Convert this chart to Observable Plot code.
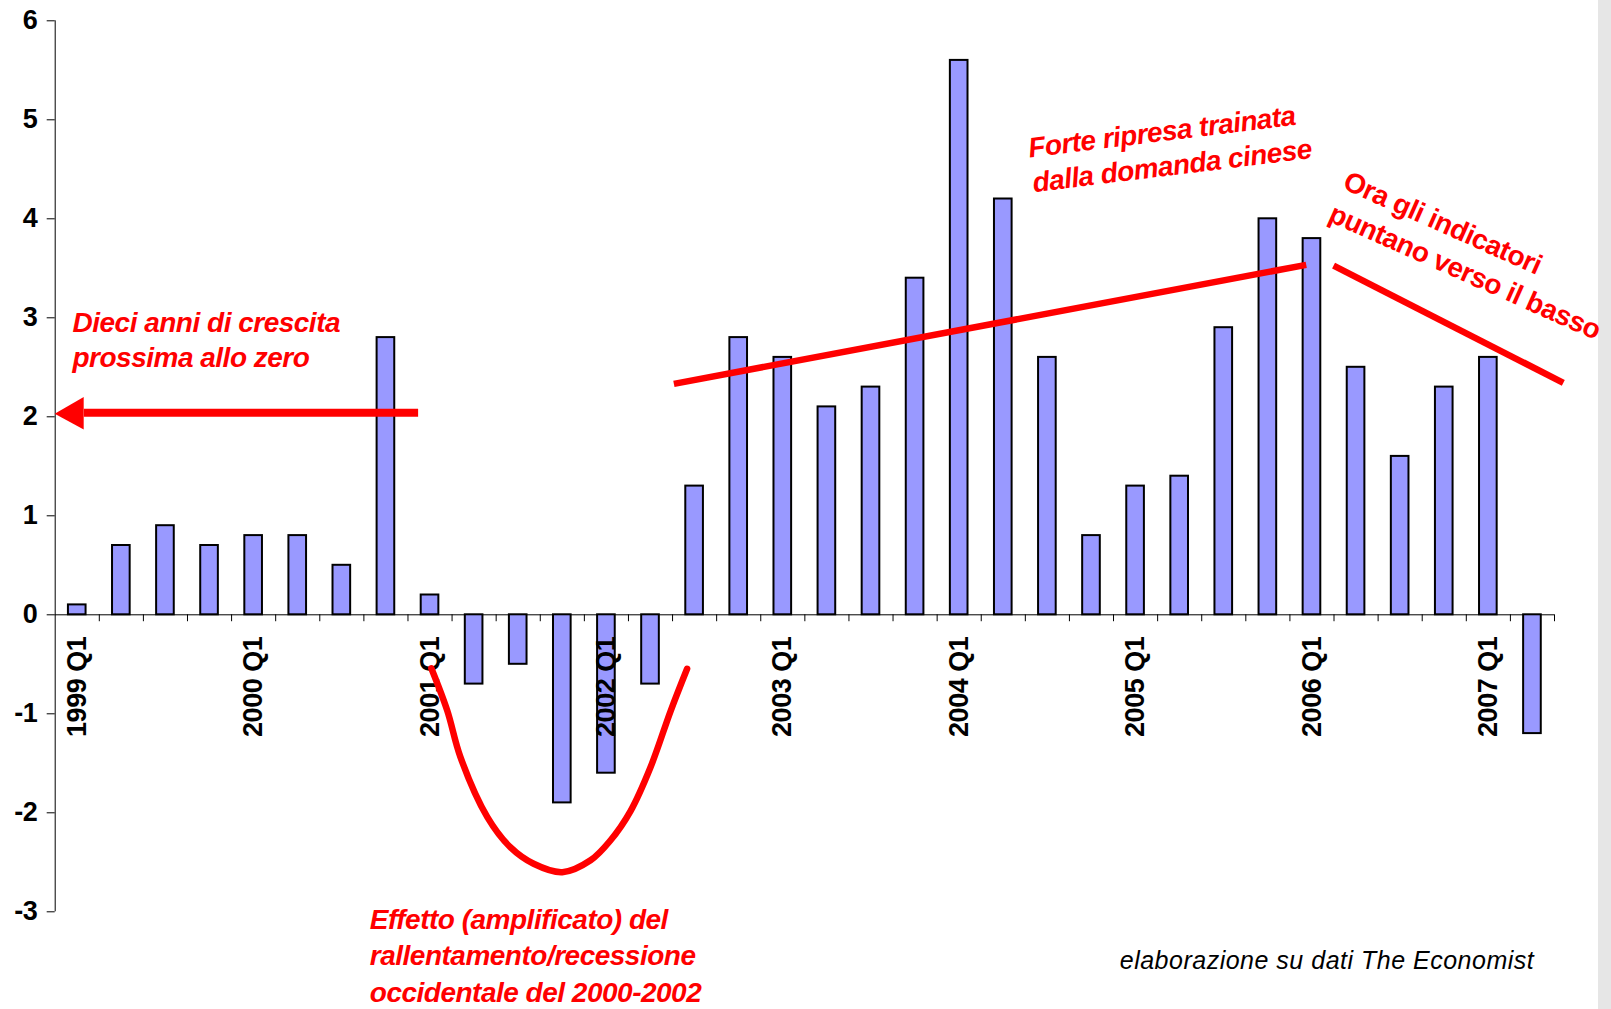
<!DOCTYPE html>
<html>
<head>
<meta charset="utf-8">
<script src="https://cdn.jsdelivr.net/npm/d3@7"></script>
<script src="https://cdn.jsdelivr.net/npm/@observablehq/plot@0.6"></script>
<style>
  html, body { margin: 0; padding: 0; background: #ffffff; }
  #strip { position: absolute; left: 1598px; top: 0; width: 13px; height: 1009px; background: #e6e6e6; }
  #chart { position: absolute; left: 0; top: 0; }
  #chart svg text { letter-spacing: -0.5px; }
</style>
</head>
<body>
<div id="strip"></div>
<div id="chart"></div>
<script>
// ---- data ----
const quarters = [
  "1999 Q1","1999 Q2","1999 Q3","1999 Q4",
  "2000 Q1","2000 Q2","2000 Q3","2000 Q4",
  "2001 Q1","2001 Q2","2001 Q3","2001 Q4",
  "2002 Q1","2002 Q2","2002 Q3","2002 Q4",
  "2003 Q1","2003 Q2","2003 Q3","2003 Q4",
  "2004 Q1","2004 Q2","2004 Q3","2004 Q4",
  "2005 Q1","2005 Q2","2005 Q3","2005 Q4",
  "2006 Q1","2006 Q2","2006 Q3","2006 Q4",
  "2007 Q1","2007 Q2"
];
const values = [
  0.1, 0.7, 0.9, 0.7,
  0.8, 0.8, 0.5, 2.8,
  0.2, -0.7, -0.5, -1.9,
  -1.6, -0.7, 1.3, 2.8,
  2.6, 2.1, 2.3, 3.4,
  5.6, 4.2, 2.6, 0.8,
  1.3, 1.4, 2.9, 4.0,
  3.8, 2.5, 1.6, 2.3,
  2.6, -1.2
];
const xTickLabels = ["1999 Q1","2000 Q1","2001 Q1","2002 Q1","2003 Q1","2004 Q1","2005 Q1","2006 Q1","2007 Q1"];
const yTicks = [-3, -2, -1, 0, 1, 2, 3, 4, 5, 6];

// annotations (in data units: x = quarter index, y = value)
const arrowShaft = [{x1: 7.73, x2: 0.15, y: 2.04}];
const arrowHead = [{x: -0.5, lo: 2.025, hi: 2.025}, {x: 0.158, lo: 1.866, hi: 2.196}];
const recessionCurve = [
  {x: 8.03, y: -0.54}, {x: 8.39, y: -0.967}, {x: 8.69, y: -1.438}, {x: 9.30, y: -2.044},
  {x: 9.82, y: -2.347}, {x: 10.35, y: -2.515}, {x: 11.0, y: -2.60}, {x: 11.64, y: -2.48},
  {x: 12.09, y: -2.28}, {x: 12.55, y: -1.98}, {x: 13.0, y: -1.54}, {x: 13.46, y: -0.967},
  {x: 13.83, y: -0.545}
];
const trendLines = [
  {x1: 13.53, y1: 2.333, x2: 27.87, y2: 3.535},
  {x1: 28.49, y1: 3.528, x2: 33.70, y2: 2.343}
];
const noteDieci = [{x: -0.108, y: 2.498, text: "Dieci anni di crescita\nprossima allo zero"}];
const noteEffetto = [{x: 6.634, y: -3.909, text: "Effetto (amplificato) del\nrallentamento/recessione\noccidentale del 2000-2002"}];
const noteForte = [{x: 21.69, y: 4.269, text: "Forte ripresa trainata\ndalla domanda cinese"}];
const noteOra = [{x: 28.34, y: 3.983, text: "Ora gli indicatori\npuntano verso il basso"}];
const caption = [{x: 33.04, y: -3.576, text: "elaborazione su dati The Economist"}];

// ---- derived tables ----
const bars = quarters.map((q, i) => ({i, q, v: values[i]}));
const xTicks = xTickLabels.map(label => ({i: quarters.indexOf(label), label}));
const boundaries = d3.range(0, quarters.length).map(i => i + 0.5);

const RED = "#ff0000";
const BAR_HALF = 0.2;
const font = "'Liberation Sans', Arial, Helvetica, sans-serif";

const chart = Plot.plot({
  width: 1611,
  height: 1009,
  marginLeft: 54.7,
  marginRight: 57,
  marginTop: 20.3,
  marginBottom: 97.7,
  x: {domain: [-0.5, quarters.length - 0.5], axis: null},
  y: {domain: [-3, 6], axis: null},
  style: {fontFamily: font, fontSize: "27px", fontWeight: "bold", background: "transparent", color: "black"},
  marks: [
    // axes lines
    Plot.ruleY([0], {x1: -0.5, x2: quarters.length - 0.5, stroke: "black", strokeWidth: 1}),
    Plot.ruleX([-0.5], {y1: -3, y2: 6, stroke: "black", strokeWidth: 1}),
    Plot.ruleX(boundaries, {x: d => d, y1: 0, y2: -0.07, stroke: "black", strokeWidth: 1}),
    // bars
    Plot.rect(bars, {
      x1: d => d.i - BAR_HALF, x2: d => d.i + BAR_HALF, y1: 0, y2: "v",
      fill: "#9999ff", stroke: "black", strokeWidth: 2
    }),
    // x tick labels
    Plot.text(xTicks, {
      x: "i", y: 0, text: "label", rotate: -90, textAnchor: "end", lineAnchor: "middle",
      dy: 22, fontSize: 27, fontWeight: "bold", fill: "black"
    }),
    // y axis
    Plot.axisY(yTicks, {
      tickSize: 8, tickPadding: 10, fontSize: 27, fontWeight: "bold", label: null,
      tickFormat: d => (d < 0 ? "-" + Math.abs(d) : String(d))
    }),
    // red annotations
    Plot.link(arrowShaft, {x1: "x1", x2: "x2", y1: "y", y2: "y", stroke: RED, strokeWidth: 8, strokeLinecap: "butt"}),
    Plot.areaY(arrowHead, {x: "x", y1: "lo", y2: "hi", fill: RED}),
    Plot.line(recessionCurve, {x: "x", y: "y", curve: "catmull-rom", stroke: RED, strokeWidth: 6.5}),
    Plot.link(trendLines, {x1: "x1", y1: "y1", x2: "x2", y2: "y2", stroke: RED, strokeWidth: 6.5, strokeLinecap: "butt"}),
    Plot.text(noteDieci, {x: "x", y: "y", text: "text", textAnchor: "start", lineAnchor: "bottom", lineHeight: 1.25,
      fill: RED, fontSize: 28, fontWeight: "bold", fontStyle: "italic"}),
    Plot.text(noteEffetto, {x: "x", y: "y", text: "text", textAnchor: "start", lineAnchor: "bottom", lineHeight: 1.3,
      fill: RED, fontSize: 28, fontWeight: "bold", fontStyle: "italic"}),
    Plot.text(noteForte, {x: "x", y: "y", text: "text", textAnchor: "start", lineAnchor: "bottom", lineHeight: 1.25,
      rotate: -7, fill: RED, fontSize: 28, fontWeight: "bold", fontStyle: "italic"}),
    Plot.text(noteOra, {x: "x", y: "y", text: "text", textAnchor: "start", lineAnchor: "bottom", lineHeight: 1.27,
      rotate: 24, fill: RED, fontSize: 28, fontWeight: "bold", fontStyle: "normal"}),
    Plot.text(caption, {x: "x", y: "y", text: "text", textAnchor: "end", lineAnchor: "bottom",
      fill: "black", fontSize: 25, fontWeight: "normal", fontStyle: "italic"})
  ]
});

d3.select(chart).selectAll("text")
  .filter(function () { return this.textContent.startsWith("elaborazione"); })
  .style("letter-spacing", "0.5px");

document.getElementById("chart").appendChild(chart);
</script>
</body>
</html>
